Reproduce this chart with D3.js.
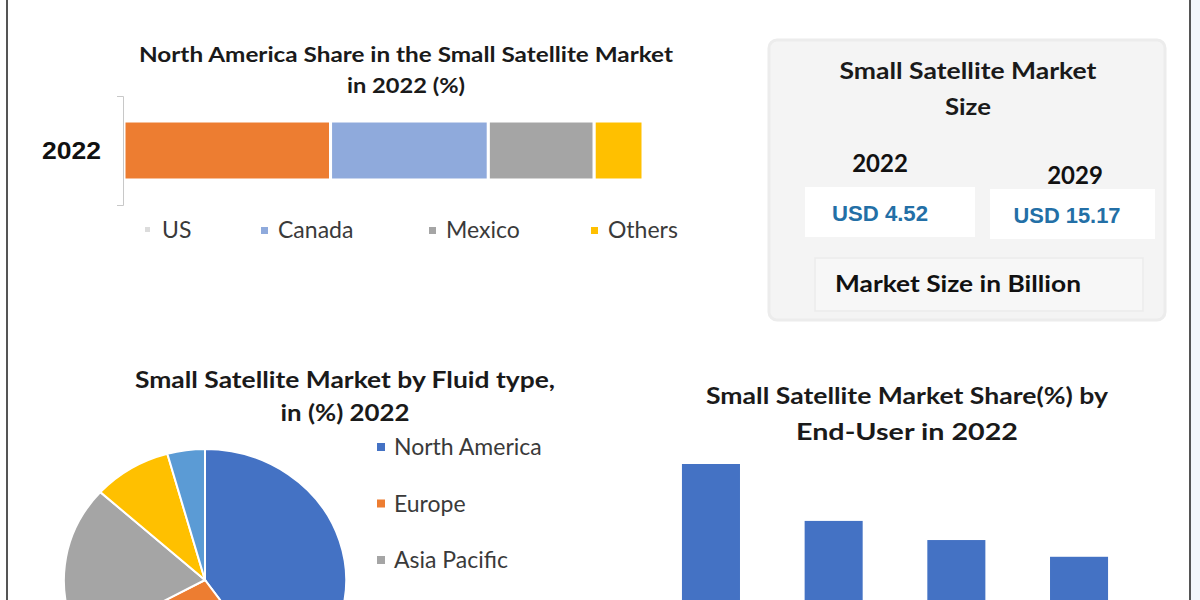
<!DOCTYPE html>
<html><head><meta charset="utf-8">
<script src="https://cdn.jsdelivr.net/npm/d3@7"></script>
<style>body{margin:0;background:#fff}svg{display:block}</style>
</head><body>
<svg id="c" width="1200" height="600"></svg>
<script>
// ---- data ----
const naCategories = ["US", "Canada", "Mexico", "Others"];
const naValues = [39.8, 30.4, 20.4, 9.4];
const naColors = ["#ED7D31", "#8FAADC", "#A5A5A5", "#FFC000"];
const naLegendColors = ["#dcdcdc", "#8FAADC", "#A5A5A5", "#FFC000"];
const naYear = ["2022"];

const sizeYears = ["2022", "2029"];
const sizeValues = ["USD 4.52", "USD 15.17"];

const regions = ["North America", "Europe", "Asia Pacific", "Middle East & Africa", "South America"];
const regionValues = [40.3, 26.7, 19.7, 9.0, 4.3];
const regionColors = ["#4472C4", "#ED7D31", "#A5A5A5", "#FFC000", "#5B9BD5"];

const endUsers = ["Commercial", "Government", "Defense", "Academic"];
const endUserValues = [36.8, 24.9, 20.9, 17.4];

const svg = d3.select("#c");
const font = "Lato, 'Open Sans', sans-serif";

// frame
svg.append("rect").attr("x", 1191).attr("y", 0).attr("width", 9).attr("height", 600).attr("fill", "#f3f7fb");
svg.append("line").attr("x1", 7).attr("x2", 7).attr("y1", 0).attr("y2", 600).attr("stroke", "#555").attr("stroke-width", 2);
svg.append("line").attr("x1", 1190).attr("x2", 1190).attr("y1", 0).attr("y2", 600).attr("stroke", "#555").attr("stroke-width", 2);

function title(lines, cx, ys, lens, size) {
  lines.forEach((t, i) => {
    svg.append("text").attr("x", cx).attr("y", ys[i]).attr("text-anchor", "middle")
      .attr("font-family", font).attr("font-weight", 700).attr("font-size", size)
      .attr("fill", "#1a1a1a").attr("textLength", lens[i]).attr("lengthAdjust", "spacingAndGlyphs").text(t);
  });
}

// ---- top-left stacked bar ----
title(["North America Share in the Small Satellite Market", "in 2022 (%)"], 406, [62, 93], [534, 118], 21);
const xNA = d3.scaleLinear().domain([0, 100]).range([124, 643]);
const yNA = d3.scaleBand().domain(naYear).range([96, 205]).paddingInner(0).paddingOuter(0.424);
let cum = 0;
const stack = naValues.map((v, i) => { const s = cum; cum += v; return {s, e: cum, c: naColors[i]}; });
svg.append("g").selectAll("rect").data(stack).join("rect")
  .attr("x", d => xNA(d.s)).attr("width", d => xNA(d.e) - xNA(d.s))
  .attr("y", yNA("2022")).attr("height", yNA.bandwidth())
  .attr("fill", d => d.c).attr("stroke", "#fff").attr("stroke-width", 3);
const yAx = svg.append("g").attr("transform", "translate(123,0)")
  .call(d3.axisLeft(yNA).tickSize(0).tickSizeOuter(6).tickPadding(22));
yAx.select(".domain").attr("stroke", "#c8c8c8");
yAx.selectAll("text").attr("font-family", "'Liberation Sans', Arial, sans-serif").attr("font-weight", 700)
  .attr("font-size", 23).attr("fill", "#111").attr("dy", "0.36em")
  .attr("textLength", 59).attr("lengthAdjust", "spacingAndGlyphs");
const naLegX = [148, 264, 432, 594];
naCategories.forEach((c, i) => {
  svg.append("rect").attr("x", naLegX[i] - 3).attr("y", 227).attr("width", i === 0 ? 5 : 7).attr("height", i === 0 ? 5 : 7).attr("fill", naLegendColors[i]);
  svg.append("text").attr("x", naLegX[i] + 14).attr("y", 238).attr("font-family", font)
    .attr("font-size", 23).attr("fill", "#3a3a3a").text(c);
});

// ---- top-right market size panel ----
svg.append("rect").attr("x", 769).attr("y", 40).attr("width", 396).attr("height", 280).attr("rx", 8)
  .attr("fill", "#f4f4f4").attr("stroke", "#ececec").attr("stroke-width", 3);
title(["Small Satellite Market", "Size"], 968, [79, 115], [257, 46], 22);
const boxX = [805, 990], boxW = [170, 165], yearY = [172, 184], valY = [221, 223], boxY = [187, 189];
const valCx = [880, 1067], valLen = [96, 107], yearCx = [880, 1075];
sizeYears.forEach((y, i) => {
  svg.append("text").attr("x", yearCx[i]).attr("y", yearY[i]).attr("text-anchor", "middle")
    .attr("font-family", font).attr("font-weight", 700).attr("font-size", 24).attr("fill", "#111").text(y);
  svg.append("rect").attr("x", boxX[i]).attr("y", boxY[i]).attr("width", boxW[i]).attr("height", 50).attr("fill", "#fff");
  svg.append("text").attr("x", valCx[i]).attr("y", valY[i]).attr("text-anchor", "middle")
    .attr("font-family", "'Liberation Sans', Arial, sans-serif").attr("font-weight", 700).attr("font-size", 22)
    .attr("textLength", valLen[i]).attr("lengthAdjust", "spacingAndGlyphs").attr("fill", "#236fa6").text(sizeValues[i]);
});
svg.append("rect").attr("x", 815).attr("y", 258).attr("width", 328).attr("height", 53)
  .attr("fill", "#f7f7f7").attr("stroke", "#ebebeb").attr("stroke-width", 1.5);
svg.append("text").attr("x", 835).attr("y", 292).attr("font-family", font).attr("font-weight", 700)
  .attr("font-size", 22).attr("fill", "#111").attr("textLength", 246).attr("lengthAdjust", "spacingAndGlyphs").text("Market Size in Billion");

// ---- bottom-left pie ----
title(["Small Satellite Market by Fluid type,", "in (%) 2022"], 345, [388, 421], [420, 129], 22);
const pie = d3.pie().sort(null).value(d => d)(regionValues);
const arc = d3.arc().innerRadius(0).outerRadius(131);
svg.append("g").attr("transform", "translate(205,580) scale(1.077,1)")
  .selectAll("path").data(pie).join("path").attr("d", arc)
  .attr("fill", (d, i) => regionColors[i]).attr("stroke", "#fff").attr("stroke-width", 2)
  .attr("vector-effect", "non-scaling-stroke");
const legY = d3.scalePoint().domain(regions).range([447, 447 + 56.5 * (regions.length - 1)]);
regions.filter(r => legY(r) < 600).forEach((r, i) => {
  svg.append("rect").attr("x", 377).attr("y", legY(r) - 4).attr("width", 8).attr("height", 8).attr("fill", regionColors[i]);
  svg.append("text").attr("x", 394).attr("y", legY(r) + 8).attr("font-family", font).attr("font-size", 23)
    .attr("fill", "#3a3a3a").text(r);
});

// ---- bottom-right bar chart ----
title(["Small Satellite Market Share(%) by", "End-User in 2022"], 907, [404, 440], [402, 222], 22);
const xB = d3.scaleBand().domain(endUsers).range([620.6, 1169.4]).paddingInner(0.527).paddingOuter(0.5);
const yB = d3.scaleLinear().domain([0, 36.8]).range([640, 464]);
svg.append("g").selectAll("rect").data(endUserValues).join("rect")
  .attr("x", (d, i) => xB(endUsers[i])).attr("width", xB.bandwidth())
  .attr("y", d => yB(d)).attr("height", d => yB(0) - yB(d)).attr("fill", "#4472C4");
</script>
</body></html>
